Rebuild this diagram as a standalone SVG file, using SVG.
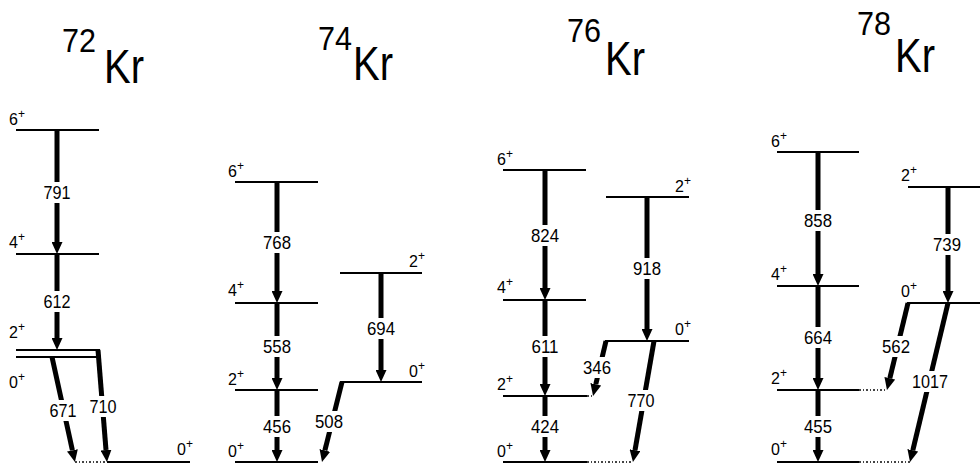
<svg xmlns="http://www.w3.org/2000/svg" width="980" height="464" viewBox="0 0 980 464">
<style>
text{font-family:"Liberation Sans",Arial,sans-serif;fill:#000}
.lv{font-size:16px}
.sup{font-size:12px}
.tl{font-size:19px;text-anchor:middle}
.ti{font-size:34px}
.tk{font-size:48px}
.lvl{stroke:#000;stroke-width:1.1;fill:none;shape-rendering:crispEdges}
.dot{stroke:#444;stroke-width:1.1;stroke-dasharray:1.5 2;fill:none;shape-rendering:crispEdges}
.ar{stroke:#000;stroke-width:5;fill:none;marker-end:url(#ah)}
.bg{fill:#fff}
</style>
<defs>
<marker id="ah" markerUnits="userSpaceOnUse" markerWidth="12" markerHeight="11" viewBox="0 0 12 11" refX="0" refY="5.5" orient="auto">
<path d="M0,0 L12,5.5 L0,11 z" fill="#000"/>
</marker>
</defs>
<rect width="980" height="464" fill="#fff"/>

<g id="titles">
<text class="ti" x="62" y="52" textLength="34" lengthAdjust="spacingAndGlyphs">72</text><text class="tk" x="104" y="83" textLength="40" lengthAdjust="spacingAndGlyphs">Kr</text>
<text class="ti" x="318" y="50" textLength="34" lengthAdjust="spacingAndGlyphs">74</text><text class="tk" x="353" y="80" textLength="40" lengthAdjust="spacingAndGlyphs">Kr</text>
<text class="ti" x="567" y="42" textLength="34" lengthAdjust="spacingAndGlyphs">76</text><text class="tk" x="605" y="75" textLength="40" lengthAdjust="spacingAndGlyphs">Kr</text>
<text class="ti" x="857" y="35" textLength="34" lengthAdjust="spacingAndGlyphs">78</text><text class="tk" x="895" y="72" textLength="40" lengthAdjust="spacingAndGlyphs">Kr</text>
</g>

<!-- 72Kr levels -->
<g id="kr72-6"><line class="lvl" x1="16" y1="130" x2="99" y2="130"/><text class="lv" x="9" y="125">6<tspan class="sup" dy="-7">+</tspan></text></g>
<g id="kr72-4"><line class="lvl" x1="16" y1="254" x2="99" y2="254"/><text class="lv" x="9" y="248">4<tspan class="sup" dy="-7">+</tspan></text></g>
<g id="kr72-2"><line class="lvl" x1="16" y1="350" x2="100" y2="350"/><text class="lv" x="9" y="338">2<tspan class="sup" dy="-7">+</tspan></text></g>
<g id="kr72-0b"><line class="lvl" x1="16" y1="357" x2="97" y2="357"/><text class="lv" x="9" y="388">0<tspan class="sup" dy="-7">+</tspan></text></g>
<g id="kr72-0"><line class="dot" x1="75" y1="462" x2="107" y2="462"/><line class="lvl" x1="107" y1="462" x2="190" y2="462"/><text class="lv" x="177" y="455">0<tspan class="sup" dy="-7">+</tspan></text></g>

<!-- 74Kr levels -->
<g id="kr74-6"><line class="lvl" x1="235" y1="182" x2="318" y2="182"/><text class="lv" x="228" y="177">6<tspan class="sup" dy="-7">+</tspan></text></g>
<g id="kr74-4"><line class="lvl" x1="235" y1="303" x2="318" y2="303"/><text class="lv" x="228" y="296">4<tspan class="sup" dy="-7">+</tspan></text></g>
<g id="kr74-2"><line class="lvl" x1="235" y1="390" x2="318" y2="390"/><text class="lv" x="228" y="385">2<tspan class="sup" dy="-7">+</tspan></text></g>
<g id="kr74-0"><line class="lvl" x1="235" y1="462" x2="318" y2="462"/><text class="lv" x="228" y="457">0<tspan class="sup" dy="-7">+</tspan></text></g>
<g id="kr74-2b"><line class="lvl" x1="340" y1="273" x2="422" y2="273"/><text class="lv" x="409" y="267">2<tspan class="sup" dy="-7">+</tspan></text></g>
<g id="kr74-0b"><line class="lvl" x1="340" y1="382" x2="422" y2="382"/><text class="lv" x="409" y="377">0<tspan class="sup" dy="-7">+</tspan></text></g>

<!-- 76Kr levels -->
<g id="kr76-6"><line class="lvl" x1="503" y1="170" x2="586" y2="170"/><text class="lv" x="497" y="165">6<tspan class="sup" dy="-7">+</tspan></text></g>
<g id="kr76-4"><line class="lvl" x1="503" y1="300" x2="586" y2="300"/><text class="lv" x="497" y="293">4<tspan class="sup" dy="-7">+</tspan></text></g>
<g id="kr76-2"><line class="lvl" x1="503" y1="396" x2="587" y2="396"/><line class="dot" x1="587" y1="396" x2="593" y2="396"/><text class="lv" x="497" y="390">2<tspan class="sup" dy="-7">+</tspan></text></g>
<g id="kr76-0"><line class="lvl" x1="503" y1="462" x2="587" y2="462"/><line class="dot" x1="587" y1="462" x2="633" y2="462"/><text class="lv" x="497" y="457">0<tspan class="sup" dy="-7">+</tspan></text></g>
<g id="kr76-2b"><line class="lvl" x1="606" y1="197" x2="689" y2="197"/><text class="lv" x="675" y="192">2<tspan class="sup" dy="-7">+</tspan></text></g>
<g id="kr76-0b"><line class="lvl" x1="605" y1="341" x2="689" y2="341"/><text class="lv" x="675" y="335">0<tspan class="sup" dy="-7">+</tspan></text></g>

<!-- 78Kr levels -->
<g id="kr78-6"><line class="lvl" x1="777" y1="152" x2="859" y2="152"/><text class="lv" x="771" y="147">6<tspan class="sup" dy="-7">+</tspan></text></g>
<g id="kr78-4"><line class="lvl" x1="777" y1="286" x2="859" y2="286"/><text class="lv" x="771" y="280">4<tspan class="sup" dy="-7">+</tspan></text></g>
<g id="kr78-2"><line class="lvl" x1="777" y1="390" x2="859" y2="390"/><line class="dot" x1="859" y1="390" x2="887" y2="390"/><text class="lv" x="771" y="384">2<tspan class="sup" dy="-7">+</tspan></text></g>
<g id="kr78-0"><line class="lvl" x1="777" y1="462" x2="859" y2="462"/><line class="dot" x1="859" y1="462" x2="910" y2="462"/><text class="lv" x="771" y="455">0<tspan class="sup" dy="-7">+</tspan></text></g>
<g id="kr78-2b"><line class="lvl" x1="908" y1="187" x2="980" y2="187"/><text class="lv" x="901" y="181">2<tspan class="sup" dy="-7">+</tspan></text></g>
<g id="kr78-0b"><line class="lvl" x1="907" y1="303" x2="980" y2="303"/><text class="lv" x="901" y="297">0<tspan class="sup" dy="-7">+</tspan></text></g>

<g id="connectors">
<!-- 72Kr -->
<line class="ar" x1="57" y1="130" x2="57" y2="242"/>
<line class="ar" x1="57" y1="254" x2="57" y2="338"/>
<line class="ar" x1="52" y1="357" x2="72.4" y2="450.3"/>
<line class="ar" x1="98" y1="350" x2="106" y2="450"/>
<!-- 74Kr -->
<line class="ar" x1="277" y1="182" x2="277" y2="291"/>
<line class="ar" x1="277" y1="303" x2="277" y2="378"/>
<line class="ar" x1="277" y1="390" x2="277" y2="450"/>
<line class="ar" x1="381" y1="273" x2="381" y2="370"/>
<line class="ar" x1="342" y1="382" x2="324.9" y2="450.4"/>
<!-- 76Kr -->
<line class="ar" x1="545" y1="170" x2="545" y2="288"/>
<line class="ar" x1="545" y1="300" x2="545" y2="384"/>
<line class="ar" x1="545" y1="396" x2="545" y2="450"/>
<line class="ar" x1="647" y1="197" x2="647" y2="329"/>
<line class="ar" x1="606" y1="341" x2="595.8" y2="384.3"/>
<line class="ar" x1="654" y1="341" x2="635" y2="450.2"/>
<!-- 78Kr -->
<line class="ar" x1="818" y1="152" x2="818" y2="274"/>
<line class="ar" x1="818" y1="286" x2="818" y2="378"/>
<line class="ar" x1="818" y1="390" x2="818" y2="450"/>
<line class="ar" x1="948" y1="187" x2="948" y2="291"/>
<line class="ar" x1="908" y1="303" x2="889.8" y2="378.3"/>
<line class="ar" x1="948" y1="303" x2="912.8" y2="450.3"/>

<!-- transition labels -->
<rect class="bg" x="42" y="182" width="30" height="21"/><text class="tl" x="57" y="199" textLength="27" lengthAdjust="spacingAndGlyphs">791</text>
<rect class="bg" x="42" y="291" width="30" height="21"/><text class="tl" x="57" y="308" textLength="27" lengthAdjust="spacingAndGlyphs">612</text>
<rect class="bg" x="48" y="400" width="30" height="21"/><text class="tl" x="63" y="417" textLength="27" lengthAdjust="spacingAndGlyphs">671</text>
<rect class="bg" x="88" y="396" width="30" height="21"/><text class="tl" x="103" y="413" textLength="27" lengthAdjust="spacingAndGlyphs">710</text>

<rect class="bg" x="262" y="232" width="30" height="21"/><text class="tl" x="277" y="249" textLength="28" lengthAdjust="spacingAndGlyphs">768</text>
<rect class="bg" x="262" y="336" width="30" height="21"/><text class="tl" x="277" y="353" textLength="28" lengthAdjust="spacingAndGlyphs">558</text>
<rect class="bg" x="262" y="416" width="30" height="21"/><text class="tl" x="277" y="433" textLength="28" lengthAdjust="spacingAndGlyphs">456</text>
<rect class="bg" x="366" y="318" width="30" height="21"/><text class="tl" x="381" y="335" textLength="28" lengthAdjust="spacingAndGlyphs">694</text>
<rect class="bg" x="314" y="411" width="30" height="21"/><text class="tl" x="329" y="428" textLength="28" lengthAdjust="spacingAndGlyphs">508</text>

<rect class="bg" x="530" y="225" width="30" height="21"/><text class="tl" x="545" y="242" textLength="28" lengthAdjust="spacingAndGlyphs">824</text>
<rect class="bg" x="632" y="258" width="30" height="21"/><text class="tl" x="647" y="275" textLength="28" lengthAdjust="spacingAndGlyphs">918</text>
<rect class="bg" x="530" y="336" width="30" height="21"/><text class="tl" x="545" y="353" textLength="27" lengthAdjust="spacingAndGlyphs">611</text>
<rect class="bg" x="582" y="357" width="30" height="21"/><text class="tl" x="597" y="374" textLength="28" lengthAdjust="spacingAndGlyphs">346</text>
<rect class="bg" x="530" y="416" width="30" height="21"/><text class="tl" x="545" y="433" textLength="28" lengthAdjust="spacingAndGlyphs">424</text>
<rect class="bg" x="626" y="390" width="30" height="21"/><text class="tl" x="641" y="407" textLength="27" lengthAdjust="spacingAndGlyphs">770</text>

<rect class="bg" x="803" y="210" width="30" height="21"/><text class="tl" x="818" y="227" textLength="28" lengthAdjust="spacingAndGlyphs">858</text>
<rect class="bg" x="932" y="234" width="30" height="21"/><text class="tl" x="947" y="251" textLength="28" lengthAdjust="spacingAndGlyphs">739</text>
<rect class="bg" x="803" y="327" width="30" height="21"/><text class="tl" x="818" y="344" textLength="28" lengthAdjust="spacingAndGlyphs">664</text>
<rect class="bg" x="881" y="336" width="30" height="21"/><text class="tl" x="896" y="353" textLength="28" lengthAdjust="spacingAndGlyphs">562</text>
<rect class="bg" x="803" y="416" width="30" height="21"/><text class="tl" x="818" y="433" textLength="28" lengthAdjust="spacingAndGlyphs">455</text>
<rect class="bg" x="911" y="371" width="39" height="21"/><text class="tl" x="930" y="388" textLength="36" lengthAdjust="spacingAndGlyphs">1017</text>
</g>
</svg>
